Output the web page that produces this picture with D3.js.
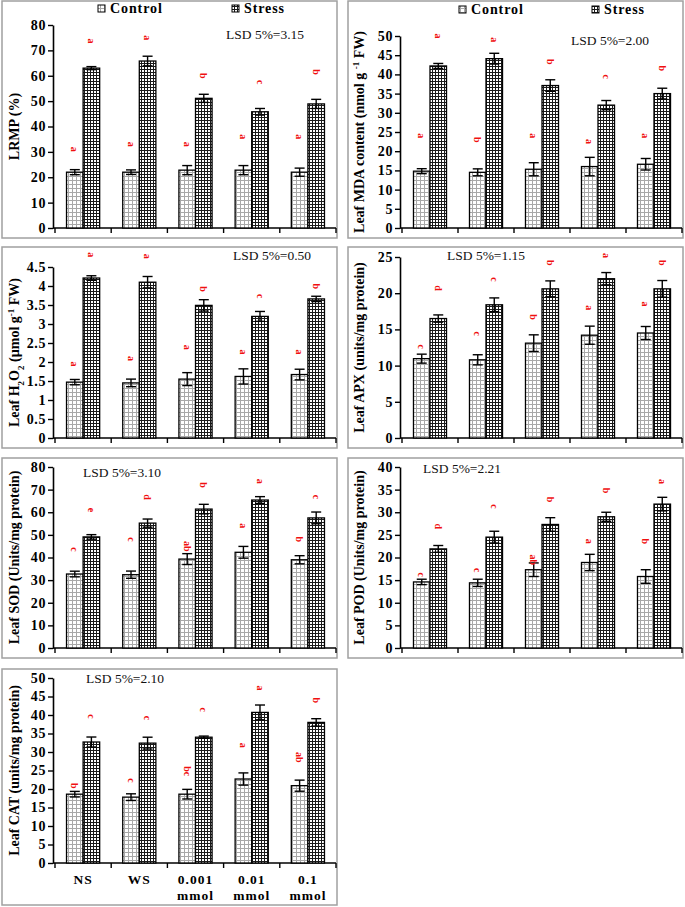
<!DOCTYPE html>
<html><head><meta charset="utf-8">
<script src="https://cdn.jsdelivr.net/npm/d3@7"></script>
<style>
html,body{margin:0;padding:0;background:#fff;}
svg{display:block;}
text{font-family:"Liberation Serif","Times New Roman",serif;}
</style></head>
<body>
<script>
// ---------- DATA ----------
const categories = ["NS","WS","0.001 mmol","0.01 mmol","0.1 mmol"];
const catLine1 = ["NS","WS","0.001","0.01","0.1"];
const catLine2 = ["","","mmol","mmol","mmol"];
const seriesNames = ["Control","Stress"];

// LRMP
const lrmpControl = [22,22,22.8,22.8,22];
const lrmpControlErr = [1,0.9,1.8,1.8,1.6];
const lrmpStress = [63,65.8,51.1,45.8,48.9];
const lrmpStressErr = [0.6,1.9,1.6,1.3,1.8];
const lrmpControlLetters = ["a","a","a","a","a"];
const lrmpControlLetterAt = [31,33,33,36,36];
const lrmpStressLetters = ["a","a","b","c","b"];
const lrmpStressLetterAt = [73.7,75,60,57.5,61.5];
const lrmpTicks = [0,10,20,30,40,50,60,70,80];

// MDA
const mdaControl = [14.8,14.5,15.3,16,16.6];
const mdaControlErr = [0.65,0.9,1.7,2.4,1.5];
const mdaStress = [42.2,44.1,37.1,32,35];
const mdaStressErr = [0.65,1.4,1.5,1.2,1.4];
const mdaControlLetters = ["a","b","a","a","a"];
const mdaControlLetterAt = [24,23,24,22.5,24];
const mdaStressLetters = ["a","a","b","c","b"];
const mdaStressLetterAt = [50,49,43.3,39.4,41.6];
const mdaTicks = [0,5,10,15,20,25,30,35,40,45,50];

// H2O2
const h2o2Control = [1.47,1.45,1.55,1.62,1.67];
const h2o2ControlErr = [0.07,0.1,0.17,0.2,0.14];
const h2o2Stress = [4.21,4.1,3.49,3.2,3.66];
const h2o2StressErr = [0.06,0.15,0.15,0.13,0.07];
const h2o2ControlLetters = ["a","a","a","a","a"];
const h2o2ControlLetterAt = [1.95,2.09,2.39,2.26,2.26];
const h2o2StressLetters = ["a","a","b","c","b"];
const h2o2StressLetterAt = [4.82,4.78,3.92,3.73,3.99];
const h2o2Ticks = [0,0.5,1,1.5,2,2.5,3,3.5,4,4.5];

// APX
const apxControl = [10.96,10.8,13.1,14.2,14.5];
const apxControlErr = [0.62,0.7,1.15,1.25,0.9];
const apxStress = [16.5,18.4,20.6,22,20.6];
const apxStressErr = [0.5,0.95,1.1,0.85,1.15];
const apxControlLetters = ["c","c","b","a","a"];
const apxControlLetterAt = [12.6,14.4,16.7,18,18.5];
const apxStressLetters = ["d","c","b","a","b"];
const apxStressLetterAt = [20.7,21.9,24.2,25.2,24.2];
const apxTicks = [0,5,10,15,20,25];

// SOD
const sodControl = [32.7,32.4,39.3,42.3,39];
const sodControlErr = [1.25,1.6,2.4,2.6,1.8];
const sodStress = [49.1,55.2,61.4,65.4,57.5];
const sodStressErr = [1,1.8,2.1,1.5,2.6];
const sodControlLetters = ["c","c","ab","a","b"];
const sodControlLetterAt = [43.5,48,45,54,48];
const sodStressLetters = ["e","d","b","a","c"];
const sodStressLetterAt = [61,66.7,72,73.7,66.7];
const sodTicks = [0,10,20,30,40,50,60,70,80];

// POD
const podControl = [14.6,14.4,17.3,18.9,15.8];
const podControlErr = [0.6,0.8,1.5,1.8,1.5];
const podStress = [21.9,24.5,27.3,29,31.8];
const podStressErr = [0.75,1.3,1.5,1,1.5];
const podControlLetters = ["c","c","ab","a","b"];
const podControlLetterAt = [16.2,17.2,19.5,23.6,23.6];
const podStressLetters = ["d","c","b","b","a"];
const podStressLetterAt = [26.9,31.3,32.8,34.8,36.8];
const podTicks = [0,5,10,15,20,25,30,35,40];

// CAT
const catControl = [18.6,17.8,18.6,22.7,20.9];
const catControlErr = [0.75,0.9,1.3,1.65,1.5];
const catStress = [32.7,32.4,34,40.7,38];
const catStressErr = [1.35,1.6,0.3,2,1];
const catControlLetters = ["b","c","bc","a","ab"];
const catControlLetterAt = [20.9,22.3,24.8,31.8,28.6];
const catStressLetters = ["c","c","c","a","b"];
const catStressLetterAt = [39.6,39.2,41.4,47.3,44];
const catTicks = [0,5,10,15,20,25,30,35,40,45,50];

// ---------- DRAW ----------
const W = 685, H = 907;
const svg = d3.select("body").append("svg").attr("width", W).attr("height", H);
const defs = svg.append("defs");
const pc = defs.append("pattern").attr("id","pCtrl").attr("patternUnits","userSpaceOnUse")
  .attr("width",4).attr("height",4);
pc.append("rect").attr("width",4).attr("height",4).attr("fill","#fff");
pc.append("path").attr("d","M0,0.5H4M0.5,0V4").attr("stroke","#a8a8a8").attr("stroke-width",1);
const ps = defs.append("pattern").attr("id","pStr").attr("patternUnits","userSpaceOnUse")
  .attr("width",3).attr("height",3);
ps.append("rect").attr("width",3).attr("height",3).attr("fill","#fff");
ps.append("path").attr("d","M0,0.5H3M0.5,0V3").attr("stroke","#1a1a1a").attr("stroke-width",1);
const fills = ["url(#pCtrl)","url(#pStr)"];

function panel(c) {
  const g = svg.append("g");
  // border
  g.append("rect").attr("x",c.box[0]).attr("y",c.box[1])
    .attr("width",c.box[2]-c.box[0]).attr("height",c.box[3]-c.box[1])
    .attr("fill","none").attr("stroke","#a0a0a0").attr("stroke-width",1.5);

  const x = d3.scaleBand().domain(categories).range([c.axisX+2, c.xRight]).paddingInner(0.41).paddingOuter(0.205);
  const xs = d3.scaleBand().domain(seriesNames).range([0, x.bandwidth()]);
  const y = d3.scaleLinear().domain([0, d3.max(c.ticks)]).range([c.y0, c.yTop]);

  // y axis
  const ya = g.append("g").attr("transform",`translate(${c.axisX},0)`)
    .call(d3.axisLeft(y).tickValues(c.ticks).tickSize(5).tickSizeOuter(0).tickFormat(d3.format("~g")));
  ya.select(".domain").attr("stroke","#000").attr("stroke-width",1.6);
  ya.selectAll(".tick line").attr("stroke","#000").attr("stroke-width",1.4);
  ya.selectAll(".tick text").attr("font-family","Liberation Serif, Times New Roman, serif")
    .attr("font-weight","bold").attr("font-size",14).attr("letter-spacing","0.6px").attr("x",-7).attr("fill","#000");

  // x axis line with boundary ticks
  g.append("line").attr("x1",c.axisX).attr("x2",c.xRight).attr("y1",c.y0).attr("y2",c.y0)
    .attr("stroke","#000").attr("stroke-width",1.6);
  const bounds = categories.map(d => x(d) - x.step()*x.paddingInner()/2).concat([c.xRight]);
  g.selectAll(".xt").data(bounds).enter().append("line")
    .attr("x1",d=>d).attr("x2",d=>d).attr("y1",c.y0).attr("y2",c.y0+5)
    .attr("stroke","#000").attr("stroke-width",1.4);

  const series = [
    {name:"Control", v:c.ctrl, e:c.ctrlErr, l:c.ctrlLet, la:c.ctrlLetAt},
    {name:"Stress", v:c.str, e:c.strErr, l:c.strLet, la:c.strLetAt}
  ];
  series.forEach((s, si) => {
    const gg = g.append("g");
    categories.forEach((cat, i) => {
      const bx = x(cat) + xs(s.name);
      const bw = xs.bandwidth();
      gg.append("rect").attr("x",bx).attr("y",y(s.v[i])).attr("width",bw)
        .attr("height",c.y0 - y(s.v[i])).attr("fill",fills[si])
        .attr("stroke","#000").attr("stroke-width",1.3);
      const cx = bx + bw/2;
      const y1 = y(s.v[i]+s.e[i]), y2 = y(s.v[i]-s.e[i]);
      gg.append("line").attr("x1",cx).attr("x2",cx).attr("y1",y1).attr("y2",y2).attr("stroke","#000").attr("stroke-width",1.4);
      [y1,y2].forEach(yy => gg.append("line").attr("x1",cx-5).attr("x2",cx+5).attr("y1",yy).attr("y2",yy)
        .attr("stroke","#000").attr("stroke-width",1.4));
      gg.append("text").attr("transform",`translate(${cx},${y(s.la[i])}) rotate(90)`)
        .attr("text-anchor","middle").attr("dy","0.33em").attr("font-size",10).attr("font-weight","bold")
        .attr("fill","#f01010").text(s.l[i]);
    });
  });

  // y label
  const yc = (c.y0 + c.yTop)/2;
  const lab = g.append("text").attr("transform",`translate(${c.labelX},${yc}) rotate(-90)`)
    .attr("text-anchor","middle").attr("dy","0.35em").attr("font-weight","bold").attr("font-size",14);
  c.label.forEach(p => {
    const t = lab.append("tspan").text(p.t);
    if (p.sub) t.attr("baseline-shift","sub").attr("font-size",9);
    if (p.sup) t.attr("baseline-shift","super").attr("font-size",9);
  });

  // LSD
  const bg = g.append("rect").attr("fill","#fff");
  const lt = g.append("text").attr("x",c.lsd[0]).attr("y",c.lsd[1]).attr("font-size",13.5)
    .attr("fill","#111").text(c.lsdText);
  if (c.lsdBg) {
    const bb = lt.node().getBBox();
    bg.attr("x",bb.x-4).attr("y",bb.y).attr("width",bb.width+8).attr("height",bb.height);
  } else bg.remove();

  // legend
  if (c.legend) {
    c.legend.forEach((L, i) => {
      g.append("rect").attr("x",L[0]).attr("y",L[1]-4).attr("width",7).attr("height",7)
        .attr("fill",fills[i]).attr("stroke","#000").attr("stroke-width",1);
      g.append("text").attr("x",L[0]+12).attr("y",L[1]+4).attr("font-weight","bold").attr("font-size",14)
        .attr("letter-spacing","0.9px").text(seriesNames[i]);
    });
  }

  // x labels
  if (c.xLabels) {
    categories.forEach((cat, i) => {
      const cx = x(cat) + x.bandwidth()/2;
      g.append("text").attr("x",cx).attr("y",c.y0+21).attr("text-anchor","middle").attr("font-weight","bold")
        .attr("font-size",13.5).attr("letter-spacing","1px").text(catLine1[i]);
      if (catLine2[i]) g.append("text").attr("x",cx).attr("y",c.y0+37).attr("text-anchor","middle").attr("font-weight","bold")
        .attr("font-size",13.5).attr("letter-spacing","1px").text(catLine2[i]);
    });
  }
}

const L = {axisX:53, xRight:336, labelX:14};
const R = {axisX:400, xRight:682, labelX:359};

panel({...L, box:[2,1,337,238], y0:228, yTop:25, ticks:lrmpTicks,
  ctrl:lrmpControl, ctrlErr:lrmpControlErr, str:lrmpStress, strErr:lrmpStressErr,
  ctrlLet:lrmpControlLetters, ctrlLetAt:lrmpControlLetterAt, strLet:lrmpStressLetters, strLetAt:lrmpStressLetterAt,
  label:[{t:"LRMP (%)"}], lsd:[226,39], lsdText:"LSD 5%=3.15", legend:[[98,9],[232,9]]});

panel({...R, box:[348,1,683,238], y0:228, yTop:36, ticks:mdaTicks,
  ctrl:mdaControl, ctrlErr:mdaControlErr, str:mdaStress, strErr:mdaStressErr,
  ctrlLet:mdaControlLetters, ctrlLetAt:mdaControlLetterAt, strLet:mdaStressLetters, strLetAt:mdaStressLetterAt,
  label:[{t:"Leaf MDA content (nmol g "},{t:"-1",sup:true},{t:" FW)"}], lsd:[571,45], lsdText:"LSD 5%=2.00",
  legend:[[459,10],[592,10]]});

panel({...L, box:[2,247,337,448], y0:438, yTop:267, ticks:h2o2Ticks,
  ctrl:h2o2Control, ctrlErr:h2o2ControlErr, str:h2o2Stress, strErr:h2o2StressErr,
  ctrlLet:h2o2ControlLetters, ctrlLetAt:h2o2ControlLetterAt, strLet:h2o2StressLetters, strLetAt:h2o2StressLetterAt,
  label:[{t:"Leaf H"},{t:"2",sub:true},{t:"O"},{t:"2",sub:true},{t:" (µmol g"},{t:"-1",sup:true},{t:" FW)"}],
  lsd:[233,260], lsdText:"LSD 5%=0.50", lsdBg:true});

panel({...R, box:[348,247,683,448], y0:438, yTop:257, ticks:apxTicks,
  ctrl:apxControl, ctrlErr:apxControlErr, str:apxStress, strErr:apxStressErr,
  ctrlLet:apxControlLetters, ctrlLetAt:apxControlLetterAt, strLet:apxStressLetters, strLetAt:apxStressLetterAt,
  label:[{t:"Leaf APX (units/mg protein)"}], lsd:[447,260], lsdText:"LSD 5%=1.15", lsdBg:true});

panel({...L, box:[2,458,337,658], y0:648, yTop:467, ticks:sodTicks,
  ctrl:sodControl, ctrlErr:sodControlErr, str:sodStress, strErr:sodStressErr,
  ctrlLet:sodControlLetters, ctrlLetAt:sodControlLetterAt, strLet:sodStressLetters, strLetAt:sodStressLetterAt,
  label:[{t:"Leaf SOD (Units/mg protein)"}], lsd:[83,477], lsdText:"LSD 5%=3.10"});

panel({...R, box:[348,458,683,658], y0:648, yTop:467, ticks:podTicks,
  ctrl:podControl, ctrlErr:podControlErr, str:podStress, strErr:podStressErr,
  ctrlLet:podControlLetters, ctrlLetAt:podControlLetterAt, strLet:podStressLetters, strLetAt:podStressLetterAt,
  label:[{t:"Leaf POD (Units/mg protein)"}], lsd:[423,473], lsdText:"LSD 5%=2.21"});

panel({...L, box:[2,669,337,905], y0:863, yTop:678, ticks:catTicks,
  ctrl:catControl, ctrlErr:catControlErr, str:catStress, strErr:catStressErr,
  ctrlLet:catControlLetters, ctrlLetAt:catControlLetterAt, strLet:catStressLetters, strLetAt:catStressLetterAt,
  label:[{t:"Leaf CAT (units/mg protein)"}], lsd:[86,683], lsdText:"LSD 5%=2.10", xLabels:true});
</script>
</body></html>
